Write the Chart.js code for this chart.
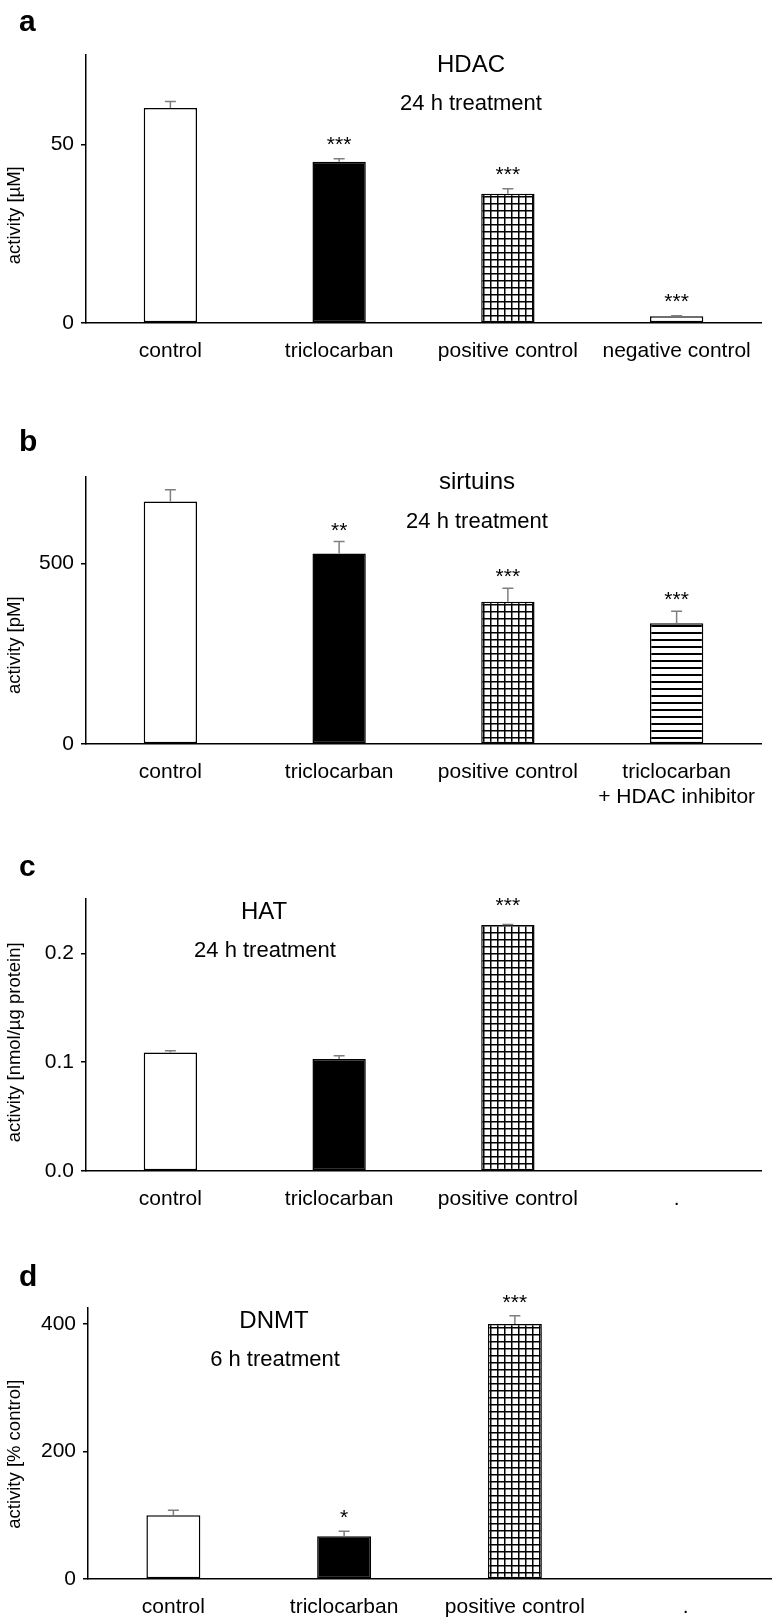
<!DOCTYPE html>
<html>
<head>
<meta charset="utf-8">
<script src="https://cdn.jsdelivr.net/npm/chart.js@4.4.0/dist/chart.umd.min.js"></script>
<style>
  body { margin: 0; background: #fff; width: 773px; height: 1618px; position: relative; overflow: hidden;
         font-family: "Liberation Sans", Arial, sans-serif; color: #000; }
  canvas { position: absolute; left: 0; }
  .letter { position: absolute; left: 19px; font-weight: bold; font-size: 30px; line-height: 30px; }
  .title { position: absolute; width: 300px; text-align: center; font-size: 24px; line-height: 24px; white-space: nowrap; }
  .sub { position: absolute; width: 300px; text-align: center; font-size: 22px; line-height: 22px; white-space: nowrap; }
  .ytitle { position: absolute; left: -136px; width: 300px; text-align: center; font-size: 18.5px; line-height: 18.5px;
            transform: rotate(-90deg); white-space: nowrap; }
</style>
</head>
<body>

<canvas id="hdacChart" width="773" height="380" style="top:0px"></canvas>
<canvas id="sirtChart" width="773" height="440" style="top:380px"></canvas>
<canvas id="hatChart" width="773" height="395" style="top:820px"></canvas>
<canvas id="dnmtChart" width="773" height="403" style="top:1215px"></canvas>

<!-- panel letters -->
<div class="letter" style="top:6px">a</div>
<div class="letter" style="top:426px">b</div>
<div class="letter" style="top:851px">c</div>
<div class="letter" style="top:1261px">d</div>

<!-- titles inside plots -->
<div class="title" style="left:321px; top:52px">HDAC</div>
<div class="sub" style="left:321px; top:92px">24 h treatment</div>
<div class="title" style="left:327px; top:469px">sirtuins</div>
<div class="sub" style="left:327px; top:510px">24 h treatment</div>
<div class="title" style="left:114px; top:899px">HAT</div>
<div class="sub" style="left:115px; top:939px">24 h treatment</div>
<div class="title" style="left:124px; top:1308px">DNMT</div>
<div class="sub" style="left:125px; top:1348px">6 h treatment</div>

<!-- y axis titles -->
<div class="ytitle" style="top:206px">activity [µM]</div>
<div class="ytitle" style="top:636px">activity [pM]</div>
<div class="ytitle" style="top:1033px">activity [nmol/µg protein]</div>
<div class="ytitle" style="top:1445px">activity [% control]</div>

<script>
// DATA
// a - HDAC
const hdacLabels = ["control", "triclocarban", "positive control", "negative control"];
const hdacMeans = [60.2, 45.1, 36.2, 1.9];
const hdacErrors = [1.8, 0.9, 1.4, 0.1];
const hdacStars = ["", "***", "***", "***"];
const hdacTicks = [0, 50];

// b - sirtuins
const sirtLabels = ["control", "triclocarban", "positive control", ["triclocarban", "+ HDAC inhibitor"]];
const sirtMeans = [672, 528, 394, 335];
const sirtErrors = [33, 33, 38, 33];
const sirtStars = ["", "**", "***", "***"];
const sirtTicks = [0, 500];

// c - HAT
const hatLabels = ["control", "triclocarban", "positive control", "."];
const hatMeans = [0.109, 0.103, 0.226, null];
const hatErrors = [0.0015, 0.003, 0.0005, null];
const hatStars = ["", "", "***", ""];
const hatTicks = [0, 0.1, 0.2];

// d - DNMT
const dnmtLabels = ["control", "triclocarban", "positive control", "."];
const dnmtMeans = [100, 67, 400, null];
const dnmtErrors = [8, 8, 13, null];
const dnmtStars = ["", "*", "***", ""];
const dnmtTicks = [0, 200, 400];

const FONT = "'Liberation Sans', Arial, sans-serif";
Chart.defaults.font.family = FONT;
Chart.defaults.color = "#000";

// PATTERNS
function gridPattern() {
  const c = document.createElement("canvas");
  c.width = 7; c.height = 7;
  const g = c.getContext("2d");
  g.fillStyle = "#fff";
  g.fillRect(0, 0, 7, 7);
  g.fillStyle = "#000";
  g.fillRect(0, 0, 7, 1.5);
  g.fillRect(0, 0, 1.5, 7);
  return g.createPattern(c, "repeat");
}

function stripePattern() {
  const c = document.createElement("canvas");
  c.width = 8; c.height = 7;
  const g = c.getContext("2d");
  g.fillStyle = "#fff";
  g.fillRect(0, 0, 8, 7);
  g.fillStyle = "#000";
  g.fillRect(0, 0, 8, 2);
  return g.createPattern(c, "repeat");
}

// ERROR BARS + STARS
const errorBars = {
  id: "errorBars",
  afterDatasetsDraw(chart) {
    const ds = chart.data.datasets[0];
    const meta = chart.getDatasetMeta(0);
    const y = chart.scales.y;
    const ctx = chart.ctx;
    ctx.save();
    ctx.strokeStyle = "#7f7f7f";
    ctx.lineWidth = 1.5;
    ctx.fillStyle = "#000";
    ctx.font = "21px " + FONT;
    ctx.textAlign = "center";
    ctx.textBaseline = "alphabetic";
    meta.data.forEach((bar, i) => {
      const v = ds.data[i];
      if (v == null) return;
      const top = y.getPixelForValue(v + ds.errors[i]);
      ctx.beginPath();
      ctx.moveTo(bar.x, bar.y);
      ctx.lineTo(bar.x, top);
      ctx.moveTo(bar.x - 5.5, top);
      ctx.lineTo(bar.x + 5.5, top);
      ctx.stroke();
      if (ds.stars[i]) ctx.fillText(ds.stars[i], bar.x, top - ds.starGap);
    });
    ctx.restore();
  }
};

// BUILD ONE PANEL
function makeChart(id, p) {
  return new Chart(document.getElementById(id), {
    type: "bar",
    data: {
      labels: p.labels,
      datasets: [{
        data: p.means,
        errors: p.errors,
        stars: p.stars,
        starGap: p.starGap,
        backgroundColor: p.fills,
        borderColor: "#000",
        borderWidth: 1.5,
        borderSkipped: false,
        categoryPercentage: 1,
        barPercentage: 0.316
      }]
    },
    options: {
      responsive: false,
      animation: false,
      layout: { padding: { top: p.top, right: p.right, left: 0, bottom: 0 } },
      plugins: { legend: { display: false }, tooltip: { enabled: false } },
      scales: {
        x: {
          grid: { display: false },
          border: { display: true, color: "#000", width: 1.5 },
          ticks: { font: { size: 21 }, color: "#000", padding: 7.5, autoSkip: false, maxRotation: 0, minRotation: 0 },
          afterFit: s => { s.height = p.xHeight; }
        },
        y: {
          min: 0,
          max: p.max,
          afterBuildTicks: s => { s.ticks = p.ticks.map(v => ({ value: v })); },
          grid: { drawOnChartArea: false, drawTicks: true, tickLength: 5, color: "#000", lineWidth: 1.5 },
          border: { display: true, color: "#000", width: 1.5 },
          ticks: { font: { size: 21 }, color: "#000", padding: 7, callback: p.fmt || (v => String(v)) },
          afterFit: s => { s.width = p.left; }
        }
      }
    },
    plugins: [errorBars]
  });
}

const grid = gridPattern();
const stripes = stripePattern();

makeChart("hdacChart", {
  labels: hdacLabels, means: hdacMeans, errors: hdacErrors, stars: hdacStars, ticks: hdacTicks,
  max: 75, fills: ["#fff", "#000", grid, "#fff"],
  top: 55, xHeight: 57, left: 86, right: 12, starGap: 8
});

makeChart("sirtChart", {
  labels: sirtLabels, means: sirtMeans, errors: sirtErrors, stars: sirtStars, ticks: sirtTicks,
  max: 740, fills: ["#fff", "#000", grid, stripes],
  top: 97, xHeight: 76, left: 86, right: 12, starGap: 5
});

makeChart("hatChart", {
  labels: hatLabels, means: hatMeans, errors: hatErrors, stars: hatStars, ticks: hatTicks,
  max: 0.25, fills: ["#fff", "#000", grid, "#fff"],
  top: 79, xHeight: 44, left: 86, right: 12, starGap: 13,
  fmt: v => v.toFixed(1)
});

makeChart("dnmtChart", {
  labels: dnmtLabels, means: dnmtMeans, errors: dnmtErrors, stars: dnmtStars, ticks: dnmtTicks,
  max: 425, fills: ["#fff", "#000", grid, "#fff"],
  top: 93, xHeight: 39, left: 88, right: 2, starGap: 7
});
</script>
</body>
</html>
